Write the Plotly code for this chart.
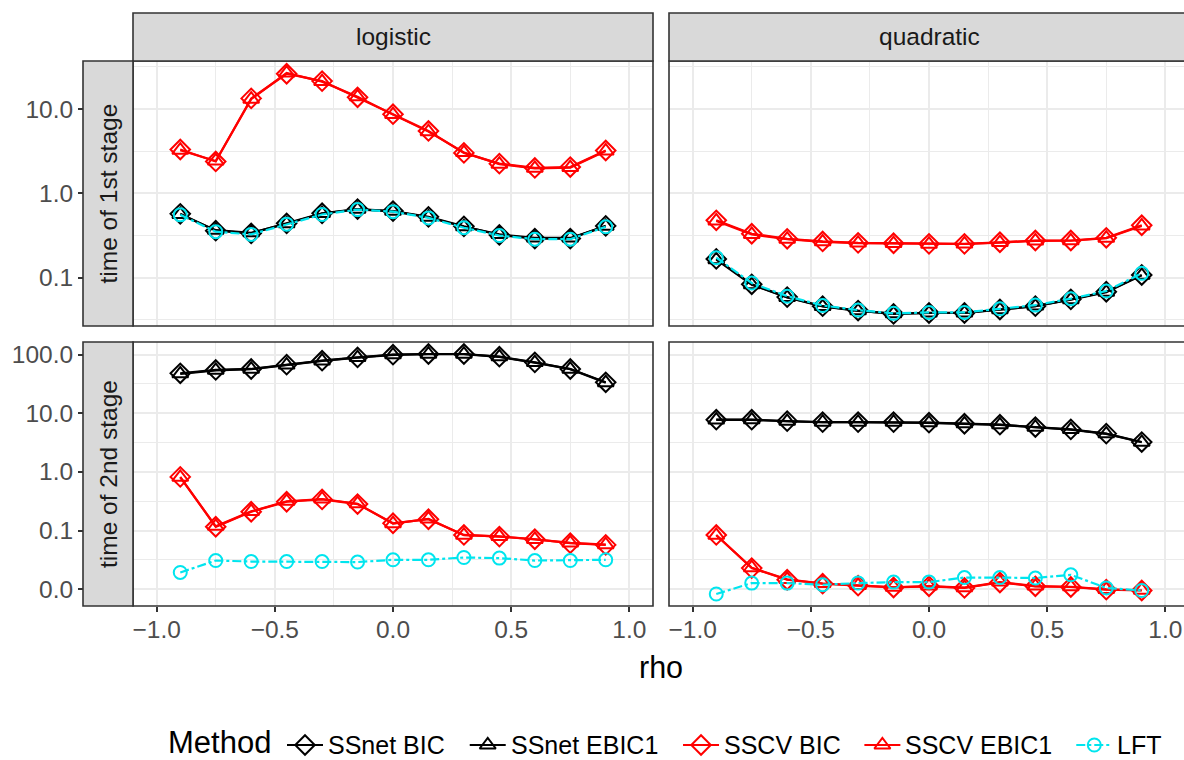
import math
import plotly.graph_objects as go

rho = [-0.9, -0.75, -0.6, -0.45, -0.3, -0.15, 0.0, 0.15, 0.3, 0.45, 0.6, 0.75, 0.9]
methods = ["SSnet BIC", "SSnet EBIC1", "SSCV BIC", "SSCV EBIC1", "LFT"]
models = ["logistic", "quadratic"]
stages = ["time of 1st stage", "time of 2nd stage"]

# logistic, 1st stage
log_s1_ssnet_bic = [0.57, 0.36, 0.335, 0.44, 0.58, 0.65, 0.615, 0.525, 0.405, 0.32, 0.29, 0.29, 0.41]
log_s1_ssnet_ebic1 = [0.56, 0.365, 0.34, 0.435, 0.575, 0.645, 0.61, 0.52, 0.40, 0.325, 0.295, 0.295, 0.405]
log_s1_sscv_bic = [3.31, 2.39, 13.4, 26.3, 21.5, 13.8, 8.7, 5.5, 3.02, 2.25, 2.0, 2.05, 3.22]
log_s1_sscv_ebic1 = [3.25, 2.42, 13.1, 26.8, 21.2, 14.0, 8.6, 5.4, 3.05, 2.22, 1.98, 2.02, 3.18]
log_s1_lft = [0.555, 0.35, 0.325, 0.43, 0.56, 0.64, 0.605, 0.51, 0.39, 0.315, 0.285, 0.285, 0.40]

# quadratic, 1st stage
quad_s1_ssnet_bic = [0.166, 0.083, 0.0585, 0.0456, 0.0405, 0.0369, 0.0379, 0.0379, 0.0417, 0.0456, 0.055, 0.0677, 0.107]
quad_s1_ssnet_ebic1 = [0.163, 0.082, 0.058, 0.0452, 0.0402, 0.0372, 0.038, 0.038, 0.0415, 0.0458, 0.0545, 0.067, 0.106]
quad_s1_sscv_bic = [0.478, 0.331, 0.288, 0.268, 0.258, 0.255, 0.251, 0.251, 0.262, 0.275, 0.275, 0.296, 0.417]
quad_s1_sscv_ebic1 = [0.47, 0.325, 0.285, 0.265, 0.256, 0.253, 0.249, 0.25, 0.26, 0.272, 0.273, 0.293, 0.41]
quad_s1_lft = [0.172, 0.086, 0.06, 0.0465, 0.041, 0.0375, 0.0385, 0.0385, 0.0425, 0.047, 0.056, 0.069, 0.112]

# logistic, 2nd stage
log_s2_ssnet_bic = [48.0, 54.8, 56.9, 67.4, 78.8, 89.6, 99.6, 102.4, 102.4, 92.1, 73.8, 56.9, 33.7]
log_s2_ssnet_ebic1 = [47.0, 54.0, 56.5, 66.5, 78.0, 89.0, 99.0, 101.5, 101.8, 91.5, 73.0, 56.5, 33.2]
log_s2_sscv_bic = [0.822, 0.116, 0.209, 0.31, 0.34, 0.283, 0.133, 0.156, 0.0842, 0.0788, 0.0711, 0.0609, 0.0569]
log_s2_sscv_ebic1 = [0.81, 0.118, 0.212, 0.315, 0.345, 0.287, 0.131, 0.158, 0.0835, 0.0795, 0.0705, 0.0615, 0.0575]
log_s2_lft = [0.0193, 0.0308, 0.0296, 0.0296, 0.0296, 0.029, 0.0317, 0.0317, 0.0347, 0.0339, 0.0308, 0.0308, 0.0317]

# quadratic, 2nd stage
quad_s2_ssnet_bic = [7.76, 7.76, 7.34, 7.06, 7.06, 7.06, 6.9, 6.63, 6.38, 5.81, 5.31, 4.49, 3.23]
quad_s2_ssnet_ebic1 = [7.7, 7.72, 7.3, 7.02, 7.03, 7.02, 6.86, 6.6, 6.34, 5.77, 5.27, 4.45, 3.2]
quad_s2_sscv_bic = [0.0842, 0.0229, 0.0145, 0.0124, 0.0115, 0.0107, 0.0112, 0.0105, 0.013, 0.0112, 0.0109, 0.0098, 0.0095]
quad_s2_sscv_ebic1 = [0.083, 0.0232, 0.0147, 0.0125, 0.0116, 0.0108, 0.0113, 0.0106, 0.0132, 0.0113, 0.011, 0.0099, 0.0096]
quad_s2_lft = [0.00828, 0.0127, 0.0127, 0.0119, 0.0127, 0.0132, 0.0132, 0.0158, 0.0158, 0.0155, 0.0176, 0.0105, 0.0095]

x_tick_vals = [-1.0, -0.5, 0.0, 0.5, 1.0]
x_tick_text = ["\u22121.0", "\u22120.5", "0.0", "0.5", "1.0"]
y_tick_vals = [0.01, 0.1, 1.0, 10.0, 100.0]
y_tick_text = ["0.0", "0.1", "1.0", "10.0", "100.0"]

panels = {
    (0, 0): [log_s1_ssnet_bic, log_s1_ssnet_ebic1, log_s1_sscv_bic, log_s1_sscv_ebic1, log_s1_lft],
    (0, 1): [quad_s1_ssnet_bic, quad_s1_ssnet_ebic1, quad_s1_sscv_bic, quad_s1_sscv_ebic1, quad_s1_lft],
    (1, 0): [log_s2_ssnet_bic, log_s2_ssnet_ebic1, log_s2_sscv_bic, log_s2_sscv_ebic1, log_s2_lft],
    (1, 1): [quad_s2_ssnet_bic, quad_s2_ssnet_ebic1, quad_s2_sscv_bic, quad_s2_sscv_ebic1, quad_s2_lft],
}

colors = ["black", "black", "#FF0000", "#FF0000", "#00E5EE"]
symbols = ["diamond-open", "triangle-up-open", "diamond-open", "triangle-up-open", "circle-open"]
dashes = ["solid", "solid", "solid", "solid", "dashdot"]
msizes = [15, 14, 15, 14, 13]

W, H = 1184, 760
FONT = "Liberation Sans, Arial, sans-serif"
TICK_COL = "#4D4D4D"
BORDER = "#333333"
GRID = "#EBEBEB"
TICK_SIZE = 24.5
TITLE_SIZE = 30.5

# panel geometry (pixels)
col_x = [(133, 653), (669, 1189)]
row_y = [(61, 326), (342, 606)]
strip_top = 13
strip_left = 83
x_full = [-1.1, 1.1]


def px_x(v):
    return v / W


def px_y(v):
    return 1 - v / H


fig = go.Figure()


def axname(r, c):
    i = r * 2 + c + 1
    return ("x" if i == 1 else f"x{i}"), ("y" if i == 1 else f"y{i}")


for (r, c), series in panels.items():
    xa, ya = axname(r, c)
    for k, m in enumerate(methods):
        fig.add_trace(go.Scatter(
            x=rho, y=series[k], xaxis=xa, yaxis=ya,
            mode="lines+markers", name=m, showlegend=False,
            line=dict(color=colors[k], width=2.2, dash=dashes[k]),
            marker=dict(symbol=symbols[k], size=msizes[k], color=colors[k],
                        line=dict(color=colors[k], width=2)),
        ))

layout = {}
for r in range(2):
    vals = []
    for c in range(2):
        for s in panels[(r, c)]:
            vals.extend(s)
    lo, hi = math.log10(min(vals)), math.log10(max(vals))
    pad = 0.05 * (hi - lo)
    yr = [lo - pad, hi + pad]
    minor_vals = [10 ** (e + 0.5) for e in range(-4, 3)]
    for c in range(2):
        xa, ya = axname(r, c)
        xkey = "xaxis" if xa == "x" else "xaxis" + xa[1:]
        ykey = "yaxis" if ya == "y" else "yaxis" + ya[1:]
        x0, x1 = col_x[c]
        y0, y1 = row_y[r]
        ppu = (col_x[0][1] - col_x[0][0]) / (x_full[1] - x_full[0])
        x1c = min(x1, W)
        xr = [x_full[0], x_full[0] + (x1c - x0) / ppu]
        layout[xkey] = dict(
            domain=[px_x(x0), px_x(x1c)], anchor=ya, range=xr,
            tickmode="array", tickvals=x_tick_vals, ticktext=x_tick_text,
            showticklabels=(r == 1), ticks="outside" if r == 1 else "",
            ticklen=5, tickwidth=1.5, tickcolor=BORDER, ticklabelstandoff=-3,
            tickfont=dict(family=FONT, size=TICK_SIZE, color=TICK_COL),
            showgrid=True, gridcolor=GRID, gridwidth=1.6, zeroline=False,
            showline=False,
            minor=dict(tickmode="array", tickvals=[-0.75, -0.25, 0.25, 0.75],
                       showgrid=True, gridcolor=GRID, gridwidth=0.8, ticks=""),
        )
        ydict = dict(
            domain=[px_y(y1), px_y(y0)], type="log", range=yr,
            tickmode="array", tickvals=y_tick_vals, ticktext=y_tick_text,
            showticklabels=(c == 0), ticks="outside" if c == 0 else "",
            ticklen=5, tickwidth=1.5, tickcolor=BORDER,
            tickfont=dict(family=FONT, size=TICK_SIZE, color=TICK_COL),
            showgrid=True, gridcolor=GRID, gridwidth=1.6, zeroline=False,
            showline=False,
            minor=dict(tickmode="array", tickvals=minor_vals,
                       showgrid=True, gridcolor=GRID, gridwidth=0.8, ticks=""),
        )
        if c == 0:
            ydict.update(anchor="free", position=px_x(strip_left))
        else:
            ydict.update(anchor=xa)
        layout[ykey] = ydict

layout["xaxis5"] = dict(domain=[0, 1], range=[0, W], visible=False, fixedrange=True)
layout["yaxis5"] = dict(domain=[0, 1], range=[H, 0], visible=False, fixedrange=True)

shapes = []
annotations = []
for r in range(2):
    for c in range(2):
        x0, x1 = col_x[c]
        y0, y1 = row_y[r]
        shapes.append(dict(type="rect", xref="paper", yref="paper",
                           x0=px_x(x0), x1=px_x(x1), y0=px_y(y1), y1=px_y(y0),
                           line=dict(color=BORDER, width=1.6), fillcolor="rgba(0,0,0,0)",
                           layer="above"))
for c in range(2):
    x0, x1 = col_x[c]
    shapes.append(dict(type="rect", xref="paper", yref="paper",
                       x0=px_x(x0), x1=px_x(x1), y0=px_y(row_y[0][0]), y1=px_y(strip_top),
                       line=dict(color=BORDER, width=1.6), fillcolor="#D9D9D9", layer="above"))
    annotations.append(dict(xref="paper", yref="paper", x=px_x((x0 + min(x1, W + 5)) / 2),
                            y=px_y((strip_top + row_y[0][0]) / 2), text=models[c],
                            showarrow=False, xanchor="center", yanchor="middle",
                            font=dict(family=FONT, size=TICK_SIZE, color="#1A1A1A")))
for r in range(2):
    y0, y1 = row_y[r]
    shapes.append(dict(type="rect", xref="paper", yref="paper",
                       x0=px_x(strip_left), x1=px_x(col_x[0][0]), y0=px_y(y1), y1=px_y(y0),
                       line=dict(color=BORDER, width=1.6), fillcolor="#D9D9D9", layer="above"))
    annotations.append(dict(xref="paper", yref="paper", x=px_x((strip_left + col_x[0][0]) / 2),
                            y=px_y((y0 + y1) / 2), text=stages[r], textangle=-90,
                            showarrow=False, xanchor="center", yanchor="middle",
                            font=dict(family=FONT, size=TICK_SIZE, color="#1A1A1A")))
annotations.append(dict(xref="paper", yref="paper", x=px_x((col_x[0][0] + col_x[1][1]) / 2),
                        y=px_y(667), text="rho", showarrow=False, xanchor="center",
                        yanchor="middle", font=dict(family=FONT, size=TITLE_SIZE, color="black")))

LEG_FONT = 25
leg_y = 745
text_w_em = {"SSnet BIC": 4.669, "SSnet EBIC1": 5.892, "SSCV BIC": 4.614, "SSCV EBIC1": 5.836, "LFT": 1.778}
annotations.append(dict(xref="paper", yref="paper", x=px_x(166), y=px_y(leg_y - 3), text="Method",
                        showarrow=False, xanchor="left", yanchor="middle",
                        font=dict(family=FONT, size=31, color="black")))
cx = 305
for k, m in enumerate(methods):
    fig.add_trace(go.Scatter(x=[cx - 18, cx + 18], y=[leg_y, leg_y], xaxis="x5", yaxis="y5",
                             mode="lines", showlegend=False, hoverinfo="skip",
                             line=dict(color=colors[k], width=2.2, dash=dashes[k])))
    fig.add_trace(go.Scatter(x=[cx], y=[leg_y], xaxis="x5", yaxis="y5",
                             mode="markers", showlegend=False, hoverinfo="skip",
                             marker=dict(symbol=symbols[k], size=msizes[k], color=colors[k],
                                         line=dict(color=colors[k], width=2))))
    annotations.append(dict(xref="paper", yref="paper", x=px_x(cx + 21), y=px_y(leg_y), text=m,
                            showarrow=False, xanchor="left", yanchor="middle",
                            font=dict(family=FONT, size=LEG_FONT, color="black")))
    cx = cx + 21 + text_w_em[m] * LEG_FONT + 45

fig.update_layout(
    width=W, height=H, margin=dict(l=0, r=0, t=0, b=0),
    paper_bgcolor="white", plot_bgcolor="rgba(0,0,0,0)",
    shapes=shapes, annotations=annotations,
    showlegend=False,
    **layout,
)

page_css = (
    "(function(){var d=document.documentElement,b=document.body;"
    "[d,b].forEach(function(e){e.style.margin='0';e.style.padding='0';"
    "e.style.overflow='hidden';e.style.height='760px';"
    "e.style.lineHeight='0';e.style.fontSize='0';});})();"
)
fig.write_html("out.html", post_script=page_css)
